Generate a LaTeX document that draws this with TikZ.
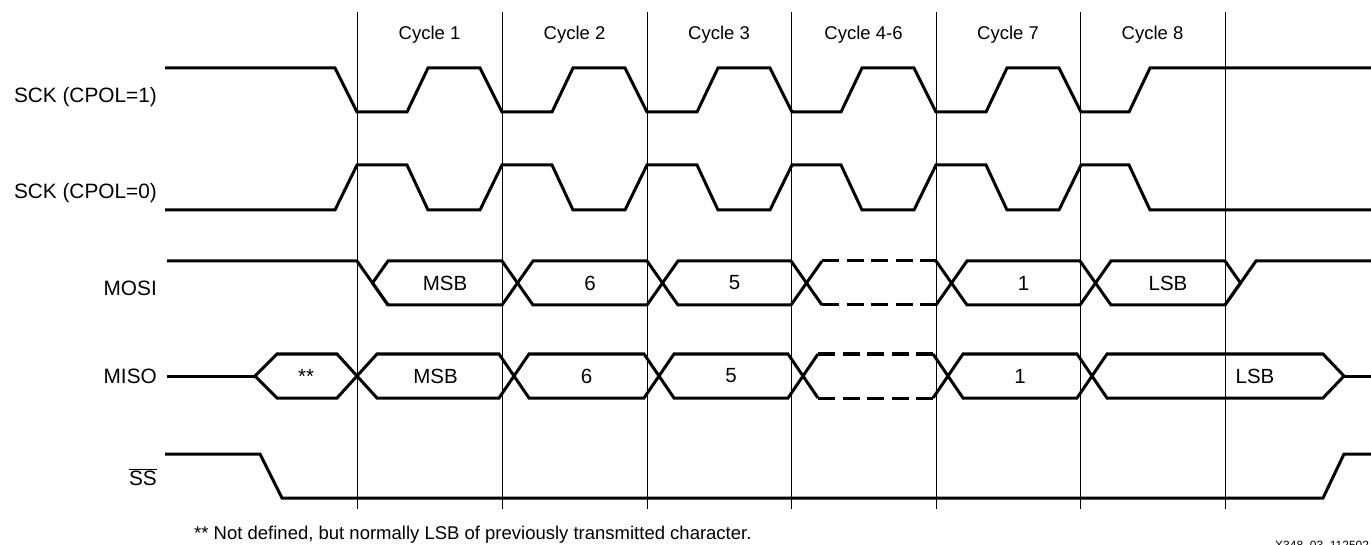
\documentclass[tikz,border=0pt]{standalone}
\usepackage{fontspec}
\setmainfont{Liberation Sans}
\usepackage{tikz}
\usetikzlibrary{calc}

\begin{document}
\begin{tikzpicture}[x=1pt,y=-1pt]
      \tikzstyle{signal} = [line width=3pt]
      \tikzstyle{cycleline} = [line width=1pt]
      \tikzstyle{signame} = [anchor=east,inner sep=0pt,font=\fontsize{20.8}{24}\selectfont]
      \tikzstyle{cyclelabel} = [inner sep=0pt,font=\fontsize{18.5}{22}\selectfont]
      \tikzstyle{bit} = [inner sep=0pt,font=\fontsize{20.5}{24}\selectfont]
      \tikzstyle{dontcare} = [dash pattern=on 17pt off 7.5pt]
      %
      \useasboundingbox (0,0) rectangle (1371,545);

      % Cycle borders and labels.
      \foreach \x in {357,502,647,791,936,1080,1225}
        \draw[cycleline] (\x,12) -- (\x,509);
      \foreach \a/\b/\t [count=\i] in {357/502/1, 502/647/2, 647/791/3, 791/936/4-6, 936/1080/7, 1080/1225/8}
        \node[cyclelabel] (cyc\i) at ({(\a+\b)/2},35) {Cycle \t};

      % Signal names.
      \node[signame] (sck1) at (157,97) {SCK (CPOL=1)};
      \node[signame] (sck0) at (157,193) {SCK (CPOL=0)};
      \node[signame] (mosi) at (157,288) {MOSI};
      \node[signame] (miso) at (157,376) {MISO};
      \node[signame] (ss) at (157,477) {$\overline{\mbox{SS}}$};

      % SCK, CPOL=1.
      \draw[signal] (165,68) -- (335,68) -- (357,112)
        \foreach \s in {357,502,647,791,936} { -- (\s+50,112) -- (\s+71,68) -- (\s+123,68) -- (\s+145,112) }
        -- (1129,112) -- (1150,68) -- (1371,68);

      % SCK, CPOL=0.
      \draw[signal] (165,210) -- (335,210) -- (357,165)
        \foreach \s in {357,502,647,791,936} { -- (\s+50,165) -- (\s+71,210) -- (\s+123,210) -- (\s+145,165) }
        -- (1129,165) -- (1150,210) -- (1371,210);

      % MOSI.
      \draw[signal] (167,261) -- (357,261) -- (388,305);
      \foreach \a/\b/\t in {357/502/MSB, 502/647/6, 647/791/5, 936/1080/1, 1080/1225/LSB} {
        \draw[signal] (\a+15.5,283) -- (\a+31,261) -- (\b,261) -- (\b+15.5,283) -- (\b,305) -- (\a+31,305) -- cycle;
        \node[bit] (mosi\t) at ({(\a+\b)/2+15.5},283) {\t};
      }
      \draw[signal] (822,261) -- (806.5,283) -- (822,305) (936,261) -- (951.5,283) -- (936,305);
      \draw[signal,dontcare] (822,261) -- (936,261) (822,305) -- (936,305);
      \draw[signal] (1225,305) -- (1256,261) -- (1371,261);

      % MISO.
      \draw[signal] (167,376) -- (255,376);
      \foreach \a/\b/\l/\r/\t/\m [count=\i] in {255/357/22/20/**/306, 357/514/20/15/MSB/435.5, 514/659/15/15/6/586.5,
          659/803/15/15/5/731, 948/1092/15/15/1/1020, 1092/1344/15/21/LSB/1255} {
        \draw[signal] (\a,376) -- (\a+\l,354) -- (\b-\r,354) -- (\b,376) -- (\b-\r,398) -- (\a+\l,398) -- cycle;
        \node[bit] (misobit\i) at (\m,376) {\t};
      }
      \draw[signal] (818,354) -- (803,376) -- (818,398) (933,354) -- (948,376) -- (933,398);
      \draw[signal,dontcare] (818,354) -- (933,354) (818,398) -- (933,398);
      \draw[signal] (1344,376) -- (1371,376);

      % SS.
      \draw[signal] (165,454) -- (260,454) -- (282,498) -- (1323,498) -- (1344,454) -- (1371,454);

      % Notes.
      \node[anchor=base west,inner sep=0pt,font=\fontsize{18.5}{22}\selectfont] (note) at (194,539.5)
        {** Not defined, but normally LSB of previously transmitted character.};
      \node[anchor=base west,inner sep=0pt,font=\fontsize{12}{14}\selectfont] (figid) at (1275,549) {X348\_03\_112502};
\end{tikzpicture}
\end{document}
